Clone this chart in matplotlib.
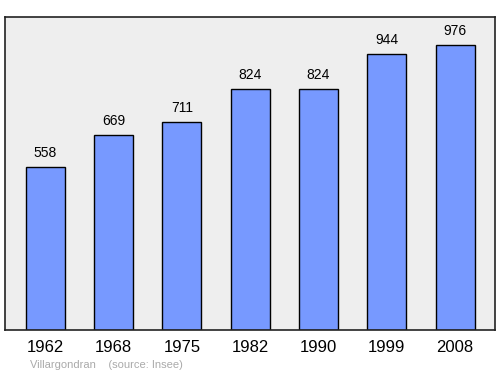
import matplotlib.pyplot as plt

# data
years = ["1962", "1968", "1975", "1982", "1990", "1999", "2008"]
population = [558, 669, 711, 824, 824, 944, 976]

plt.rcParams['font.family'] = ['Liberation Sans', 'DejaVu Sans']

fig = plt.figure(figsize=(5, 3.74), dpi=100)
ax = fig.add_axes([5 / 500, 1 - 330 / 374, 490 / 500, 313 / 374])
ax.set_facecolor('#eeeeee')

xs = list(range(len(years)))
bars = ax.bar(xs, population, width=0.57, color='#7799ff',
              edgecolor='black', linewidth=1, zorder=2)

for x, v in zip(xs, population):
    ax.annotate(str(v), (x, v), xytext=(0, 5), textcoords='offset points',
                ha='center', va='bottom', fontsize=10)

ax.set_xlim(-0.59, 6.585)
ax.set_ylim(0, 1072)
ax.set_xticks(xs)
ax.set_xticklabels(years, fontsize=12)
ax.tick_params(axis='x', length=0, pad=7)
ax.set_yticks([])
for s in ax.spines.values():
    s.set_linewidth(1.2)
    s.set_color('#222222')

fig.text(30 / 500, 1 - 365 / 374, "Villargondran    (source: Insee)",
         fontsize=8, color='#aaaaaa', va='center', ha='left')

fig.savefig('out.png', dpi=100)
